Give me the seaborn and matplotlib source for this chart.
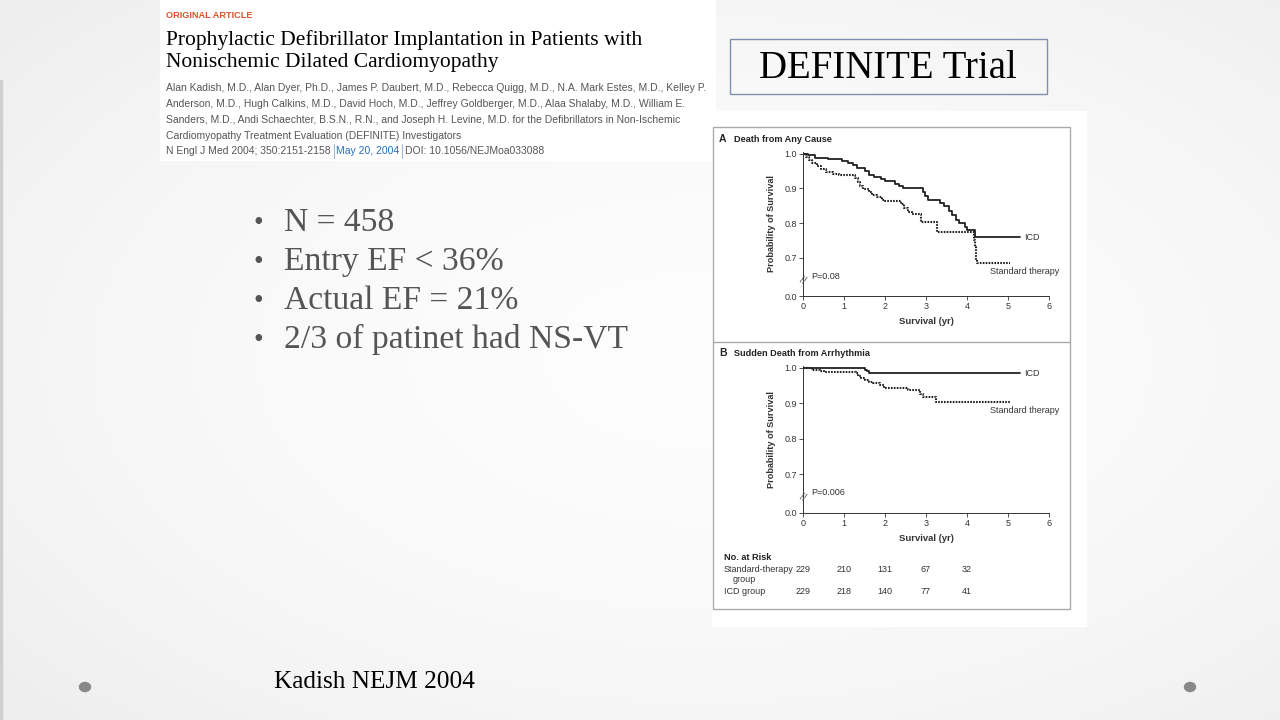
import numpy as np
import pandas as pd
import matplotlib
matplotlib.use('Agg')
import matplotlib.pyplot as plt
from matplotlib.patches import Rectangle, Ellipse
from matplotlib.transforms import blended_transform_factory
import seaborn as sns

# ---- data (change points) ----
a_icd_t = [0, 0.12, 0.3, 0.6, 0.95, 1.1, 1.22, 1.32, 1.5, 1.6, 1.72, 1.9, 2.0, 2.25, 2.35, 2.45,
           2.92, 2.98, 3.05, 3.33, 3.45, 3.55, 3.63, 3.72, 3.8, 3.95, 4.0, 4.19, 5.3]
a_icd_s = [1.0, 0.995, 0.989, 0.984, 0.979, 0.974, 0.968, 0.96, 0.95, 0.94, 0.934, 0.928, 0.922,
           0.912, 0.906, 0.90, 0.89, 0.878, 0.868, 0.858, 0.848, 0.835, 0.822, 0.81, 0.80, 0.79,
           0.78, 0.76, 0.76]
a_std_t = [0, 0.08, 0.15, 0.23, 0.33, 0.43, 0.55, 0.72, 0.87, 1.27, 1.33, 1.4, 1.47, 1.6, 1.68,
           1.8, 1.93, 2.0, 2.38, 2.47, 2.55, 2.65, 2.87, 3.27, 4.17, 4.19, 4.21, 4.23, 4.25, 5.06]
a_std_s = [1.0, 0.99, 0.982, 0.973, 0.965, 0.956, 0.948, 0.943, 0.939, 0.93, 0.918, 0.906, 0.898,
           0.89, 0.882, 0.875, 0.868, 0.864, 0.855, 0.843, 0.833, 0.826, 0.804, 0.775, 0.75, 0.73,
           0.71, 0.695, 0.684, 0.684]
b_icd_t = [0, 0.1, 0.4, 1.52, 1.56, 1.62, 5.3]
b_icd_s = [1.0, 0.999, 0.998, 0.995, 0.99, 0.985, 0.985]
b_std_t = [0, 0.1, 0.22, 0.42, 0.52, 1.3, 1.35, 1.42, 1.5, 1.6, 1.7, 1.88, 1.97, 2.55, 2.85,
           2.92, 3.25, 5.08]
b_std_s = [1.0, 0.998, 0.994, 0.991, 0.988, 0.985, 0.978, 0.97, 0.965, 0.961, 0.957, 0.95,
           0.942, 0.936, 0.926, 0.918, 0.902, 0.902]

risk_years = [0, 1, 2, 3, 4]
risk_std = [229, 210, 131, 67, 32]
risk_icd = [229, 218, 140, 77, 41]

y_ticks = [1.0, 0.9, 0.8, 0.7]
bullets = ['N = 458', 'Entry EF < 36%', 'Actual EF = 21%', '2/3 of patinet had NS-VT']
authors = ['Alan Kadish, M.D., Alan Dyer, Ph.D., James P. Daubert, M.D., Rebecca Quigg, M.D., N.A. Mark Estes, M.D., Kelley P.',
           'Anderson, M.D., Hugh Calkins, M.D., David Hoch, M.D., Jeffrey Goldberger, M.D., Alaa Shalaby, M.D., William E.',
           'Sanders, M.D., Andi Schaechter, B.S.N., R.N., and Joseph H. Levine, M.D. for the Defibrillators in Non-Ischemic',
           'Cardiomyopathy Treatment Evaluation (DEFINITE) Investigators']

sns.set_theme(style='white')
plt.rcParams['font.family'] = ['Liberation Sans', 'DejaVu Sans']

W, H = 1280, 720
def fx(px):
    return px / W
def fy(py):
    return 1 - py / H

fig = plt.figure(figsize=(12.8, 7.2), dpi=100)

# slide background with soft vignette
bg = fig.add_axes([0, 0, 1, 1], zorder=-10)
yy, xx = np.mgrid[0:1:180j, 0:1:320j]
r = np.sqrt(((xx - 0.55) / 0.8) ** 2 + ((yy - 0.5) / 0.8) ** 2)
shade = 0.99 - 0.07 * np.clip(r, 0, 1.2) ** 2
bg.imshow(np.dstack([shade] * 3), extent=[0, 1, 0, 1], aspect='auto', vmin=0, vmax=1)
bg.set_axis_off()
fig.add_artist(Rectangle((0, 0), fx(2), fy(80), transform=fig.transFigure, color='#cfcfcf', zorder=-5))

# article header
fig.add_artist(Rectangle((fx(160), fy(160)), fx(555), 160 / H, transform=fig.transFigure,
                         color='white', zorder=-4))
fig.text(fx(166), fy(15), 'ORIGINAL ARTICLE', fontsize=6.6, weight='bold', color='#e0502a', va='center')
serif = ['Liberation Serif', 'DejaVu Serif']
fig.text(fx(166), fy(40), 'Prophylactic Defibrillator Implantation in Patients with',
         fontsize=15.5, family=serif, color='black', va='center')
fig.text(fx(166), fy(63), 'Nonischemic Dilated Cardiomyopathy',
         fontsize=15.5, family=serif, color='black', va='center')
for i, line in enumerate(authors):
    fig.text(fx(166), fy(88 + 16 * i), line, fontsize=7.5, color='#555555', va='center')
t1 = fig.text(fx(166), fy(151), 'N Engl J Med 2004; 350:2151-2158 ', fontsize=7.5, color='#555555', va='center')
fig.canvas.draw()
rend = fig.canvas.get_renderer()
x_cur = t1.get_window_extent(rend).x1
fig.add_artist(plt.Line2D([x_cur / W, x_cur / W], [fy(144), fy(158)], color='#9fb8d8', lw=0.8))
t2 = fig.text(x_cur / W + fx(2), fy(151), 'May 20, 2004', fontsize=7.5, color='#2a6ebb', va='center')
x_cur = t2.get_window_extent(rend).x1 + 3
fig.add_artist(plt.Line2D([x_cur / W, x_cur / W], [fy(144), fy(158)], color='#9fb8d8', lw=0.8))
fig.text(x_cur / W + fx(3), fy(151), 'DOI: 10.1056/NEJMoa033088', fontsize=7.5, color='#555555', va='center')

# DEFINITE Trial box
fig.add_artist(Rectangle((fx(730), fy(94)), fx(317), 55 / H, transform=fig.transFigure,
                         facecolor='none', edgecolor='#7f8fb0', lw=1.0))
fig.text(fx(888), fy(69), 'DEFINITE Trial', fontsize=28, family=serif, ha='center', va='center', color='black')

# bullets
for i, b in enumerate(bullets):
    y = 223 + 38.7 * i
    fig.text(fx(258), fy(y + 1), '\u2022', fontsize=20, family=serif, color='#555555', ha='center', va='center')
    fig.text(fx(284), fy(y), b, fontsize=24.2, family=serif, color='#555555', va='center')

fig.text(fx(274), fy(682), 'Kadish NEJM 2004', fontsize=18.2, family=serif, color='black', va='center')
for cx in [85, 1190]:
    fig.add_artist(Ellipse((fx(cx), fy(687)), fx(11), 9 / H, transform=fig.transFigure, color='#888888'))

# figure panel
fig.add_artist(Rectangle((fx(712), fy(626)), fx(374), 515 / H, transform=fig.transFigure,
                         color='white', zorder=-3))
fig.add_artist(Rectangle((fx(713), fy(609)), fx(357), 482 / H, transform=fig.transFigure,
                         facecolor='none', edgecolor='#aaaaaa', lw=1.0))
fig.add_artist(plt.Line2D([fx(713), fx(1070)], [fy(342), fy(342)], color='#aaaaaa', lw=1.0))

ybot = 0.59
ytop = 1.005
km_font = 6.5

def km_panel(ax, icd_t, icd_s, std_t, std_s, pval, std_label_y, icd_label_y):
    df_icd = pd.DataFrame({'t': icd_t, 's': icd_s})
    df_std = pd.DataFrame({'t': std_t, 's': std_s})
    sns.lineplot(data=df_icd, x='t', y='s', ax=ax, estimator=None, sort=False,
                 drawstyle='steps-post', color='#222222', lw=1.3)
    sns.lineplot(data=df_std, x='t', y='s', ax=ax, estimator=None, sort=False,
                 drawstyle='steps-post', color='#222222', lw=1.5, linestyle=(0, (0.8, 0.6)))
    ax.set_xlim(0, 6)
    ax.set_ylim(ybot, ytop)
    ax.set_facecolor('none')
    ax.set_yticks([ybot] + y_ticks)
    ax.set_yticklabels(['0.0'] + ['%.1f' % v for v in y_ticks])
    ax.set_xticks(range(7))
    for s in ['top', 'right']:
        ax.spines[s].set_visible(False)
    for s in ['left', 'bottom']:
        ax.spines[s].set_color('#333333')
        ax.spines[s].set_linewidth(0.7)
    ax.tick_params(axis='both', which='both', direction='out', length=3, width=0.6,
                   labelsize=km_font, colors='#333333', pad=1.5, left=True, bottom=True)
    ax.set_xlabel('Survival (yr)', fontsize=6.8, weight='bold', color='#333333', labelpad=4)
    ax.set_ylabel('Probability of Survival', fontsize=6.6, weight='bold', color='#333333', labelpad=6)
    ax.text(0.0, 0.635, '//', fontsize=7, color='#444444', ha='center', va='center', rotation=-25)
    ax.text(0.2, 0.647, pval, fontsize=km_font, color='#333333', va='center')
    ax.text(5.4, icd_label_y, 'ICD', fontsize=km_font, color='#333333', va='center', clip_on=False)
    ax.text(4.57, std_label_y, 'Standard therapy', fontsize=km_font, color='#333333', va='center', clip_on=False)

axA = fig.add_axes([fx(803), fy(296), fx(1049 - 803), 144 / H])
km_panel(axA, a_icd_t, a_icd_s, a_std_t, a_std_s, 'P=0.08', 0.662, 0.76)
fig.text(fx(719), fy(139), 'A', fontsize=7.5, weight='bold', color='#222222', va='center')
fig.text(fx(734), fy(139), 'Death from Any Cause', fontsize=6.6, weight='bold', color='#222222', va='center')

axB = fig.add_axes([fx(803), fy(513), fx(1049 - 803), 147 / H])
km_panel(axB, b_icd_t, b_icd_s, b_std_t, b_std_s, 'P=0.006', 0.878, 0.985)
fig.text(fx(719), fy(353), 'B', fontsize=7.5, weight='bold', color='#222222', va='center')
fig.text(fx(734), fy(353), 'Sudden Death from Arrhythmia', fontsize=6.6, weight='bold', color='#222222', va='center')

# number at risk table
fig.text(fx(724), fy(558), 'No. at Risk', fontsize=6.6, weight='bold', color='#222222', va='center')
fig.text(fx(724), fy(569), 'Standard-therapy', fontsize=6.5, color='#333333', va='center')
fig.text(fx(733), fy(580), 'group', fontsize=6.5, color='#333333', va='center')
fig.text(fx(724), fy(592), 'ICD group', fontsize=6.5, color='#333333', va='center')
tr = blended_transform_factory(axB.transData, fig.transFigure)
for yr, ns, ni in zip(risk_years, risk_std, risk_icd):
    fig.text(yr, fy(569), str(ns), fontsize=6.5, color='#333333', ha='center', va='center', transform=tr)
    fig.text(yr, fy(592), str(ni), fontsize=6.5, color='#333333', ha='center', va='center', transform=tr)

fig.savefig('out.png', dpi=100)
